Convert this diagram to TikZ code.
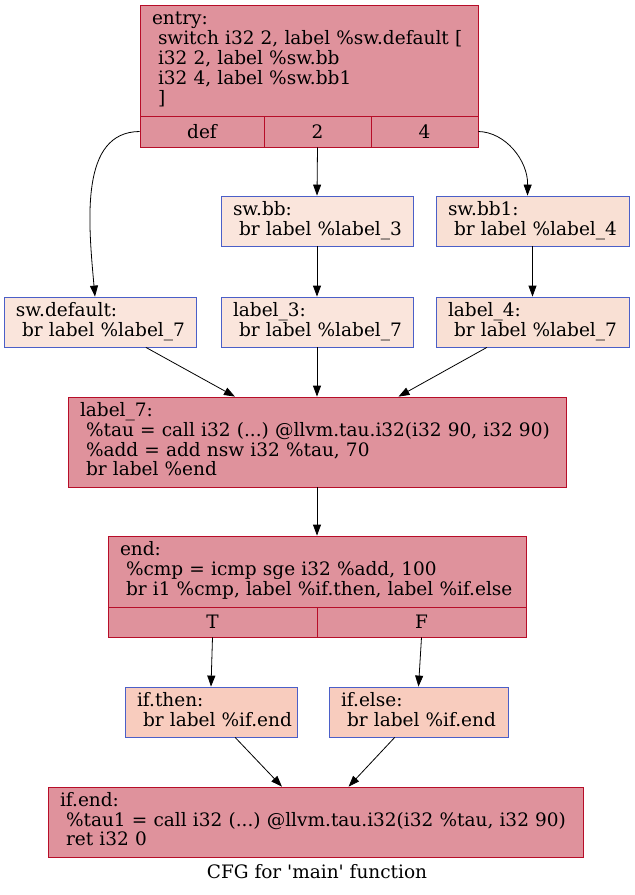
\documentclass[tikz,border=0pt]{standalone}
\usepackage{fontspec}
\setmainfont{DejaVu Serif}
\usetikzlibrary{arrows.meta}
\frenchspacing

\definecolor{hotline}{RGB}{183,13,40}
\definecolor{hotfill}{RGB}{223,146,156}
\definecolor{coolline}{RGB}{75,95,200}
\definecolor{palefill}{RGB}{250,229,220}
\definecolor{peachfill}{RGB}{249,224,212}
\definecolor{warmfill}{RGB}{248,204,190}

\newcommand{\ind}{\hspace*{6pt}}
\newcommand{\irlines}[1]{\begin{tabular}{@{}l@{}}#1\end{tabular}}

\tikzset{
  block/.style={draw, rectangle, inner sep=0pt, align=left, line width=0.8pt,
    font=\fontsize{18.5}{19.6}\selectfont},
  hotblock/.style={block, draw=hotline, fill=hotfill},
  coolblock/.style={block, draw=coolline},
  portcell/.style={draw=hotline, fill=hotfill, rectangle, inner sep=0pt, line width=0.8pt,
    font=\fontsize{18.5}{20}\selectfont},
  edge/.style={-{Triangle[length=11pt,width=8pt]}, black, line width=0.8pt}
}

\begin{document}
\begin{tikzpicture}[x=1pt, y=1pt]
            \useasboundingbox (0,0) rectangle (635,-895);

            % Define nodes
            \node[hotblock, minimum width=338, minimum height=111, text width=314] (entry) at (309,-60.5)
              {\irlines{entry:\\ \ind switch i32 2, label \%sw.default [\\ \ind i32 2, label \%sw.bb\\ \ind i32 4, label \%sw.bb1\\ \ind ]}};
            \node[portcell, minimum width=124, minimum height=31] (def) at (202,-131.5) {def};
            \node[portcell, minimum width=107, minimum height=31] (two) at (317.5,-131.5) {2};
            \node[portcell, minimum width=107, minimum height=31] (four) at (424.5,-131.5) {4};

            \node[coolblock, fill=palefill, minimum width=192, minimum height=50, text width=168] (swbb) at (317,-221)
              {\irlines{sw.bb:\\ \ind br label \%label\_3}};
            \node[coolblock, fill=peachfill, minimum width=193, minimum height=50, text width=169] (swbb1) at (532.5,-221)
              {\irlines{sw.bb1:\\ \ind br label \%label\_4}};
            \node[coolblock, fill=palefill, minimum width=192, minimum height=50, text width=168] (swdefault) at (100,-322)
              {\irlines{sw.default:\\ \ind br label \%label\_7}};
            \node[coolblock, fill=palefill, minimum width=192, minimum height=50, text width=168] (label3) at (317,-322)
              {\irlines{label\_3:\\ \ind br label \%label\_7}};
            \node[coolblock, fill=peachfill, minimum width=193, minimum height=50, text width=169] (label4) at (532.5,-322)
              {\irlines{label\_4:\\ \ind br label \%label\_7}};

            \node[hotblock, minimum width=498, minimum height=90, text width=474] (label7) at (317,-442)
              {\irlines{label\_7:\\ \ind \%tau = call i32 (...) @llvm.tau.i32(i32 90, i32 90)\\ \ind \%add = add nsw i32 \%tau, 70\\ \ind br label \%end}};

            \node[hotblock, minimum width=418, minimum height=71, text width=394] (end) at (317,-571.5)
              {\irlines{end:\\ \ind \%cmp = icmp sge i32 \%add, 100\\ \ind br i1 \%cmp, label \%if.then, label \%if.else}};
            \node[portcell, minimum width=209, minimum height=30] (T) at (212.5,-622) {T};
            \node[portcell, minimum width=209, minimum height=30] (F) at (421.5,-622) {F};

            \node[coolblock, fill=warmfill, minimum width=172, minimum height=50, text width=148] (ifthen) at (211,-712)
              {\irlines{if.then:\\ \ind br label \%if.end}};
            \node[coolblock, fill=warmfill, minimum width=179, minimum height=50, text width=155] (ifelse) at (418.5,-712)
              {\irlines{if.else:\\ \ind br label \%if.end}};

            \node[hotblock, minimum width=535, minimum height=70, text width=511] (ifend) at (315.5,-822)
              {\irlines{if.end:\\ \ind \%tau1 = call i32 (...) @llvm.tau.i32(i32 \%tau, i32 90)\\ \ind ret i32 0}};

            % Draw edges
            \draw[edge] (def.west) .. controls (80,-132) and (88,-220) .. ([xshift=-5]swdefault.north);
            \draw[edge] (two.south) -- (swbb.north);
            \draw[edge] (four.east) .. controls (505,-132) and (528,-160) .. ([xshift=-5]swbb1.north);
            \draw[edge] (swbb) -- (label3);
            \draw[edge] (swbb1) -- (label4);
            \draw[edge] (swdefault) -- (label7);
            \draw[edge] (label3) -- (label7);
            \draw[edge] (label4) -- (label7);
            \draw[edge] (label7) -- (end);
            \draw[edge] (T.south) -- (ifthen.north);
            \draw[edge] (F.south) -- (ifelse.north);
            \draw[edge] (ifthen) -- (ifend);
            \draw[edge] (ifelse) -- (ifend);

            % Add labels
            \node[font=\fontsize{18.5}{20}\selectfont] (caption) at (317,-872) {CFG for \textquotesingle main\textquotesingle\ function};
        \end{tikzpicture}
\end{document}
